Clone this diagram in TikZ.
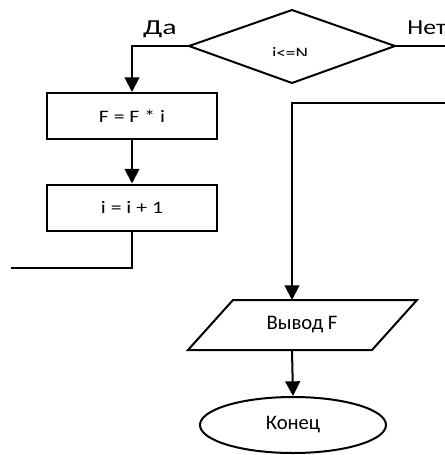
\documentclass[tikz,border=0pt]{standalone}
\usepackage{fontspec}
\setmainfont{Carlito}
\usetikzlibrary{arrows.meta,shapes.geometric}
\newcommand{\widetext}[2]{\scalebox{#1}[1]{#2}}
\begin{document}
\begin{tikzpicture}[x=0.75pt,y=-0.75pt,
  line width=1.5pt,
  flow/.style={-{Triangle[length=11pt,width=11pt]}},
  procbox/.style={draw,rectangle,minimum width=127.5pt,minimum height=34.5pt,inner sep=0pt,font=\fontsize{13.1}{16}\selectfont},
  lbl/.style={inner sep=0pt,font=\fontsize{16}{19}\selectfont},
  txt/.style={inner sep=0pt,font=\fontsize{15.5}{18}\selectfont}]
\useasboundingbox (0,0) rectangle (445,455);
% decision
\coordinate (dl) at (189,46);
\coordinate (dr) at (395,46);
\coordinate (dt) at (292,10);
\coordinate (db) at (292,83);
\draw (dl) -- (dt) -- (dr) -- (db) -- cycle;
\begin{scope}
\clip (250,40) rectangle (330,55);
\node[inner sep=0pt,anchor=base,font=\fontsize{12}{14}\selectfont] (cond) at (290,58.3) {\widetext{1.2}{i<=N}};
\end{scope}
\node[lbl,anchor=base] (yes) at (160,34) {\widetext{1.4}{Да}};
\node[lbl,anchor=base west] (no) at (406.5,34) {\widetext{1.2}{Нет}};
% left branch
\node[procbox] (b1) at (132,116) {\widetext{1.24}{F = F * i}};
\node[procbox] (b2) at (132,207.5) {\widetext{1.24}{i = i + 1}};
\draw[flow] (dl) -| (b1.north);
\draw[flow] (b1.south) -- (b2.north);
\coordinate (loopturn) at (132,268);
\coordinate (loopend) at (11,268);
\draw (b2.south) -- (loopturn) -- (loopend);
% right branch
\coordinate (rexit) at (446,46);
\draw (dr) -- (rexit);
\coordinate (rin) at (446,103);
\coordinate (rcorner) at (292,103);
% output parallelogram
\coordinate (p1) at (233,300);
\coordinate (p2) at (417,300);
\coordinate (p3) at (372,350);
\coordinate (p4) at (188,350);
\draw (p1) -- (p2) -- (p3) -- (p4) -- cycle;
\node[txt] (out) at (302,325) {Вывод F};
\coordinate (ptop) at (292,300);
\coordinate (pbot) at (292,350);
\draw[flow] (rin) -- (rcorner) -- (ptop);
% end
\node[draw,ellipse,minimum width=139.5pt,minimum height=42pt,inner sep=0pt,txt] (end) at (293,425) {Конец};
\draw[flow] (pbot) -- (end.north);
\end{tikzpicture}
\end{document}
